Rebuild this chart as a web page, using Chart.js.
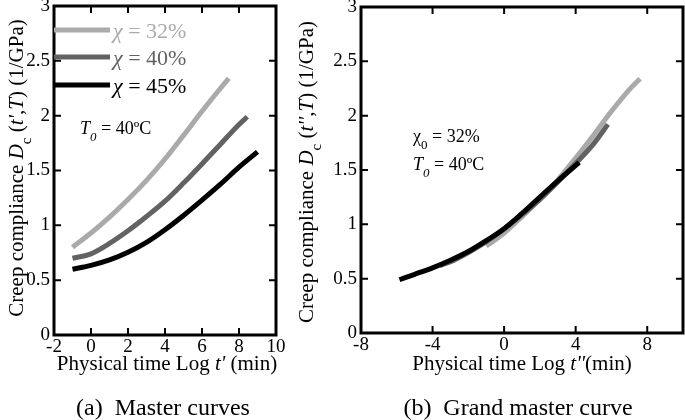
<!DOCTYPE html>
<html>
<head>
<meta charset="utf-8">
<script src="https://cdn.jsdelivr.net/npm/chart.js@4.4.0/dist/chart.umd.min.js"></script>
<style>
	body { margin: 0; background: #fff; }
	canvas { position: absolute; top: 0; }
	#chart_master { left: 0; }
	#chart_grand { left: 295px; }
</style>
</head>
<body>
<canvas id="chart_master" width="300" height="420"></canvas>
<canvas id="chart_grand" width="390" height="420"></canvas>
<script>
var serif = '"Liberation Serif", "Times New Roman", serif';

// (a) master curves: Log t' (min) -> Dc (1/GPa)
var m32_x = [-1, 0, 1, 2, 3, 4, 5, 6, 7, 7.45];
var m32_y = [0.80, 0.93, 1.075, 1.235, 1.41, 1.605, 1.82, 2.04, 2.25, 2.34];
var m40_x = [-1, 0, 1, 2, 3, 4, 5, 6, 7, 8, 8.45];
var m40_y = [0.70, 0.74, 0.835, 0.95, 1.08, 1.22, 1.385, 1.56, 1.74, 1.92, 1.99];
var m45_x = [-1, 0, 1, 2, 3, 4, 5, 6, 7, 8, 9];
var m45_y = [0.60, 0.635, 0.685, 0.755, 0.845, 0.96, 1.09, 1.23, 1.375, 1.53, 1.67];

// (b) grand master curve: Log t'' (min) -> Dc (1/GPa)
var g32_x = [-1, 0, 1, 2, 3, 4, 5, 6, 7, 7.6];
var g32_y = [0.80, 0.92, 1.07, 1.23, 1.41, 1.61, 1.82, 2.04, 2.24, 2.34];
var g40_x = [-3.6, -2.8, -1.9, -1, 0, 1, 2, 3, 4, 5, 5.8];
var g40_y = [0.62, 0.67, 0.75, 0.84, 0.96, 1.09, 1.23, 1.39, 1.56, 1.74, 1.92];
var g45_x = [-5.85, -5, -4, -3, -2, -1, 0, 1, 2, 3, 4.2];
var g45_y = [0.49, 0.54, 0.60, 0.67, 0.75, 0.85, 0.96, 1.10, 1.25, 1.40, 1.57];

var x_ticks_a = [-2, 0, 2, 4, 6, 8, 10];
var x_ticks_b = [-8, -4, 0, 4, 8];
var y_ticks = [0, 0.5, 1, 1.5, 2, 2.5, 3];

var legend_labels = ['\u03c7 = 32%', '\u03c7 = 40%', '\u03c7 = 45%'];
var colors = ['#aaaaaa', '#626262', '#000000'];

function pts(xs, ys) {
	return xs.map(function (x, i) { return { x: x, y: ys[i] }; });
}

function line(label, xs, ys, color) {
	return {
		label: label,
		data: pts(xs, ys),
		borderColor: color,
		backgroundColor: color,
		borderWidth: 5,
		pointRadius: 0,
		showLine: true,
		cubicInterpolationMode: 'monotone',
	};
}

function fontOf(style, size) {
	var s = style.indexOf('s') >= 0 ? Math.round(size * 0.72) : size;
	return (style.indexOf('i') >= 0 ? 'italic ' : '') + s + 'px ' + serif;
}

// parts: [text, style] with style '' | 'i' | 's' (subscript) | 'si'
function drawRich(ctx, parts, x, y, size, align, color) {
	var w = 0;
	parts.forEach(function (p) {
		ctx.font = fontOf(p[1], size);
		w += ctx.measureText(p[0]).width;
	});
	var cx = align === 'center' ? x - w / 2 : x;
	ctx.fillStyle = color || '#000';
	ctx.textAlign = 'left';
	ctx.textBaseline = 'alphabetic';
	parts.forEach(function (p) {
		ctx.font = fontOf(p[1], size);
		var dy = p[1].indexOf('s') >= 0 ? size * 0.38 : 0;
		ctx.fillText(p[0], cx, y + dy);
		cx += ctx.measureText(p[0]).width;
	});
}

// frame with inward ticks on all four sides, plus the rich texts
function framePlugin(texts) {
	return {
		id: 'frame',
		afterDatasetsDraw: function (chart) {
			var ctx = chart.ctx;
			var a = chart.chartArea;
			var xs = chart.scales.x, ys = chart.scales.y;
			ctx.save();
			ctx.strokeStyle = '#000';
			ctx.lineWidth = 2;
			ctx.beginPath();
			xs.ticks.forEach(function (t) {
				var px = xs.getPixelForValue(t.value);
				if (px < a.left + 4 || px > a.right - 4) return;
				ctx.moveTo(px, a.bottom); ctx.lineTo(px, a.bottom - 7);
				ctx.moveTo(px, a.top); ctx.lineTo(px, a.top + 7);
			});
			ys.ticks.forEach(function (t) {
				var py = ys.getPixelForValue(t.value);
				if (py < a.top + 4 || py > a.bottom - 4) return;
				ctx.moveTo(a.left, py); ctx.lineTo(a.left + 7, py);
				ctx.moveTo(a.right, py); ctx.lineTo(a.right - 7, py);
			});
			ctx.stroke();
			ctx.lineWidth = 3;
			ctx.strokeRect(a.left, a.top, a.right - a.left, a.bottom - a.top);
			texts(ctx, a);
			ctx.restore();
		}
	};
}

function yTitle(ctx, x, y, prime) {
	ctx.save();
	ctx.translate(x, y);
	ctx.rotate(-Math.PI / 2);
	drawRich(ctx, [
		['Creep compliance ', ''], ['D', 'i'], ['c', 's'], [' (', ''], ['t' + prime, 'i'],
		[',', ''], ['T', 'i'], [') (1/GPa)', '']
	], 0, 0, 21, 'center');
	ctx.restore();
}

function axisOptions(xmin, xmax, xticks, yWidth) {
	return {
		x: {
			type: 'linear',
			min: xmin,
			max: xmax,
			afterBuildTicks: function (s) { s.ticks = xticks.map(function (v) { return { value: v }; }); },
			afterFit: function (s) { s.height = 20; s.paddingLeft = 0; s.paddingRight = 0; },
			grid: { display: false, drawTicks: false },
			border: { display: false },
			ticks: {
				color: '#000', padding: 1, maxRotation: 0, font: { family: serif, size: 19 },
				callback: function (v) { return String(v); },
			},
		},
		y: {
			type: 'linear',
			min: 0,
			max: 3,
			afterBuildTicks: function (s) { s.ticks = y_ticks.map(function (v) { return { value: v }; }); },
			afterFit: function (s) { s.width = yWidth; s.paddingTop = 0; s.paddingBottom = 0; },
			grid: { display: false, drawTicks: false },
			border: { display: false },
			ticks: {
				color: '#000', padding: 4, font: { family: serif, size: 19 },
				callback: function (v) { return String(v); },
			},
		}
	};
}

var chart_master = new Chart(
	document.getElementById('chart_master'),
	{
		type: 'scatter',
		data: {
			datasets: [
				line(legend_labels[2], m45_x, m45_y, colors[2]),
				line(legend_labels[1], m40_x, m40_y, colors[1]),
				line(legend_labels[0], m32_x, m32_y, colors[0]),
			]
		},
		options: {
			responsive: false,
			animation: false,
			layout: { padding: { left: 0, right: 24, top: 6, bottom: 65 } },
			plugins: { legend: { display: false }, tooltip: { enabled: false } },
			scales: axisOptions(-2, 10, x_ticks_a, 54),
		},
		plugins: [framePlugin(function (ctx, a) {
			// legend
			var ly = [30, 57, 85];
			ly.forEach(function (y, i) {
				ctx.strokeStyle = colors[i];
				ctx.lineWidth = 5;
				ctx.beginPath();
				ctx.moveTo(a.left, y); ctx.lineTo(a.left + 56, y);
				ctx.stroke();
				var txt = legend_labels[i];
				drawRich(ctx, [[txt.charAt(0), 'i'], [txt.slice(1), '']], a.left + 59, y + 8, 22, 'left', colors[i]);
			});
			drawRich(ctx, [['T', 'i'], ['0', 'si'], [' = 40\u00baC', '']], 80, 134, 18, 'left');
			drawRich(ctx, [['Physical time Log ', ''], ['t\'', 'i'], [' (min)', '']], 167, 370, 21, 'center');
			drawRich(ctx, [['(a)  Master curves', '']], 163, 415, 24, 'center');
			yTitle(ctx, 23, 168, '\'');
		})]
	}
);

var chart_grand = new Chart(
	document.getElementById('chart_grand'),
	{
		type: 'scatter',
		data: {
			datasets: [
				line(legend_labels[2], g45_x, g45_y, colors[2]),
				line(legend_labels[1], g40_x, g40_y, colors[1]),
				line(legend_labels[0], g32_x, g32_y, colors[0]),
			]
		},
		options: {
			responsive: false,
			animation: false,
			layout: { padding: { left: 0, right: 2, top: 7, bottom: 67 } },
			plugins: { legend: { display: false }, tooltip: { enabled: false } },
			scales: axisOptions(-8, 10, x_ticks_b, 66),
		},
		plugins: [framePlugin(function (ctx, a) {
			drawRich(ctx, [['\u03c7', ''], ['0', 's'], [' = 32%', '']], 118, 142, 18, 'left');
			drawRich(ctx, [['T', 'i'], ['0', 'si'], [' = 40\u00baC', '']], 118, 170, 18, 'left');
			drawRich(ctx, [['Physical time Log ', ''], ['t\'\'', 'i'], ['(min)', '']], 227, 370, 21, 'center');
			drawRich(ctx, [['(b)  Grand master curve', '']], 223, 415, 24, 'center');
			yTitle(ctx, 18, 172, '\'\'');
		})]
	}
);
</script>
</body>
</html>
